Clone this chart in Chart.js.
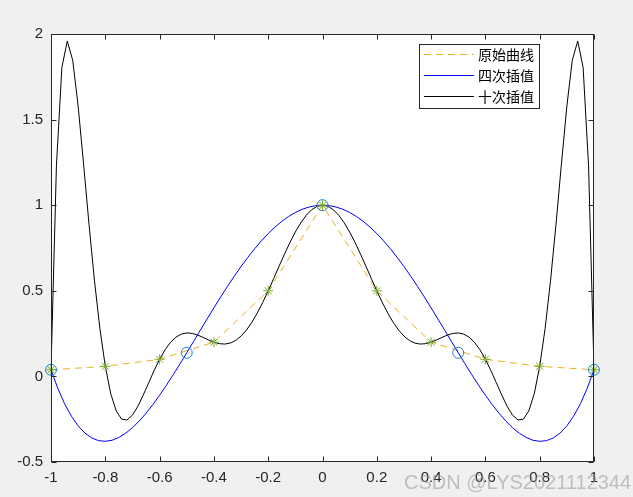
<!DOCTYPE html>
<html>
<head>
<meta charset="utf-8">
<script src="https://cdn.jsdelivr.net/npm/chart.js@4"></script>
<style>
  html,body{margin:0;padding:0;background:#f0f0f0;}
  #wrap{width:633px;height:497px;}
</style>
</head>
<body>
<div id="wrap"><canvas id="c" width="633" height="497"></canvas></div>
<script>
// nodes of the original curve (stars + dashed line)
var xNodes = [-1,-0.8,-0.6,-0.4,-0.2,0,0.2,0.4,0.6,0.8,1];
var yNodes = [0.0385,0.0588,0.1,0.2,0.5,1,0.5,0.2,0.1,0.0588,0.0385];

// 4th order nodes (circles)
var xNodes4 = [-1,-0.5,0,0.5,1];
var yNodes4 = [0.0385,0.1379,1,0.1379,0.0385];

// 4th order curve (blue)
var xP4 = [-1,-0.975,-0.95,-0.925,-0.9,-0.875,-0.85,-0.825,-0.8,-0.775,-0.75,-0.725,-0.7,-0.675,-0.65,-0.625,-0.6,-0.575,-0.55,-0.525,
           -0.5,-0.475,-0.45,-0.425,-0.4,-0.375,-0.35,-0.325,-0.3,-0.275,-0.25,-0.225,-0.2,-0.175,-0.15,-0.125,-0.1,-0.075,-0.05,-0.025,0,
           0.025,0.05,0.075,0.1,0.125,0.15,0.175,0.2,0.225,0.25,0.275,0.3,0.325,0.35,0.375,0.4,0.425,0.45,0.475,
           0.5,0.525,0.55,0.575,0.6,0.625,0.65,0.675,0.7,0.725,0.75,0.775,0.8,0.825,0.85,0.875,0.9,0.925,0.95,0.975,1];
var yP4 = [0.0385,-0.0697,-0.1596,-0.2323,-0.2891,-0.3311,-0.3595,-0.3752,-0.3793,-0.3729,-0.3568,-0.3321,-0.2997,-0.2605,-0.2153,-0.1649,-0.1101,-0.0517,0.0096,0.0730,
           0.1379,0.2038,0.2698,0.3356,0.4005,0.4641,0.5258,0.5852,0.6419,0.6955,0.7456,0.7920,0.8342,0.8721,0.9054,0.9340,0.9576,0.9761,0.9893,0.9973,1,
           0.9973,0.9893,0.9761,0.9576,0.9340,0.9054,0.8721,0.8342,0.7920,0.7456,0.6955,0.6419,0.5852,0.5258,0.4641,0.4005,0.3356,0.2698,0.2038,
           0.1379,0.0730,0.0096,-0.0517,-0.1101,-0.1649,-0.2153,-0.2605,-0.2997,-0.3321,-0.3568,-0.3729,-0.3793,-0.3752,-0.3595,-0.3311,-0.2891,-0.2323,-0.1596,-0.0697,0.0385];

// 10th order curve (black)
var xP10 = [-1,-0.98,-0.96,-0.94,-0.92,-0.9,-0.88,-0.86,-0.84,-0.82,
            -0.8,-0.78,-0.76,-0.74,-0.72,-0.7,-0.68,-0.66,-0.64,-0.62,
            -0.6,-0.58,-0.56,-0.54,-0.52,-0.5,-0.48,-0.46,-0.44,-0.42,
            -0.4,-0.38,-0.36,-0.34,-0.32,-0.3,-0.28,-0.26,-0.24,-0.22,
            -0.2,-0.18,-0.16,-0.14,-0.12,-0.1,-0.08,-0.06,-0.04,-0.02,0,
            0.02,0.04,0.06,0.08,0.1,0.12,0.14,0.16,0.18,0.2,
            0.22,0.24,0.26,0.28,0.3,0.32,0.34,0.36,0.38,0.4,
            0.42,0.44,0.46,0.48,0.5,0.52,0.54,0.56,0.58,0.6,
            0.62,0.64,0.66,0.68,0.7,0.72,0.74,0.76,0.78,0.8,
            0.82,0.84,0.86,0.88,0.9,0.92,0.94,0.96,0.98,1];
var yP10 = [0.0385,1.2303,1.8044,1.9590,1.8459,1.5788,1.2402,0.8881,0.5605,0.2802,
            0.0588,-0.1007,-0.2013,-0.2496,-0.2546,-0.2262,-0.1743,-0.1083,-0.0363,0.0349,
            0.1,0.1554,0.1987,0.2292,0.2472,0.2538,0.2510,0.2415,0.2278,0.2131,
            0.2,0.1912,0.1888,0.1946,0.2099,0.2353,0.2710,0.3165,0.3708,0.4326,
            0.5,0.5710,0.6432,0.7142,0.7818,0.8434,0.8971,0.9409,0.9734,0.9933,1,
            0.9933,0.9734,0.9409,0.8971,0.8434,0.7818,0.7142,0.6432,0.5710,0.5,
            0.4326,0.3708,0.3165,0.2710,0.2353,0.2099,0.1946,0.1888,0.1912,0.2,
            0.2131,0.2278,0.2415,0.2510,0.2538,0.2472,0.2292,0.1987,0.1554,0.1,
            0.0349,-0.0363,-0.1083,-0.1743,-0.2262,-0.2546,-0.2496,-0.2013,-0.1007,0.0588,
            0.2802,0.5605,0.8881,1.2402,1.5788,1.8459,1.9590,1.8044,1.2303,0.0385];

var legendLabels = ['原始曲线','四次插值','十次插值'];
var watermark = 'CSDN @LYS2021112344';

var AX = '#262626';

function pts(xs, ys){
  var out = [];
  for(var i=0;i<xs.length;i++){ out.push({x:xs[i], y:ys[i]}); }
  return out;
}

function fmt(v){
  var r = Math.round(v*10)/10;
  if(r === 0) r = 0;
  return String(r);
}

var axesPlugin = {
  id: 'axesBox',
  beforeDraw: function(chart){
    var a = chart.chartArea, ctx = chart.ctx;
    ctx.save();
    ctx.fillStyle = '#ffffff';
    ctx.fillRect(a.left, a.top, a.right-a.left, a.bottom-a.top);
    ctx.restore();
  },
  afterDraw: function(chart){
    var a = chart.chartArea, ctx = chart.ctx;
    var xs = chart.scales.x, ys = chart.scales.y;
    var L = Math.round(a.left)+0.5, R = Math.round(a.right)-0.5;
    var T = Math.round(a.top)+0.5, B = Math.round(a.bottom)-0.5;
    ctx.save();
    ctx.strokeStyle = AX;
    ctx.lineWidth = 1;
    ctx.strokeRect(L, T, R-L, B-T);
    ctx.beginPath();
    xs.ticks.forEach(function(t){
      var px = Math.round(xs.getPixelForValue(t.value))+0.5;
      ctx.moveTo(px, B); ctx.lineTo(px, B-5);
      ctx.moveTo(px, T); ctx.lineTo(px, T+5);
    });
    ys.ticks.forEach(function(t){
      var py = Math.round(ys.getPixelForValue(t.value))+0.5;
      ctx.moveTo(L, py); ctx.lineTo(L+5, py);
      ctx.moveTo(R, py); ctx.lineTo(R-5, py);
    });
    ctx.stroke();

    // legend
    var lx = 419.5, ly = 44.5, lw = 120, lh = 64;
    ctx.fillStyle = '#ffffff';
    ctx.fillRect(lx, ly, lw, lh);
    ctx.strokeStyle = AX;
    ctx.strokeRect(lx, ly, lw, lh);
    var styles = [
      {c:'#EDB120', dash:[7,5]},
      {c:'#0000FF', dash:[]},
      {c:'#000000', dash:[]}
    ];
    var rows = [54.5, 75.5, 96.5];
    ctx.font = '14px "Noto Sans CJK SC", sans-serif';
    ctx.textBaseline = 'middle';
    for(var i=0;i<legendLabels.length;i++){
      ctx.beginPath();
      ctx.setLineDash(styles[i].dash);
      ctx.strokeStyle = styles[i].c;
      ctx.moveTo(424, rows[i]); ctx.lineTo(474, rows[i]);
      ctx.stroke();
      ctx.setLineDash([]);
      ctx.fillStyle = '#000000';
      ctx.fillText(legendLabels[i], 478, rows[i]);
    }

    // watermark
    ctx.font = '20px "Liberation Sans", Arial, sans-serif';
    ctx.textBaseline = 'alphabetic';
    ctx.fillStyle = 'rgba(150,150,150,0.55)';
    ctx.fillText(watermark, 404, 489);
    ctx.restore();
  }
};

new Chart(document.getElementById('c'), {
  type: 'scatter',
  data: {
    datasets: [
      { label:'stars', data: pts(xNodes, yNodes), showLine:false, pointStyle:'star',
        pointRadius:5, pointBorderColor:'#77AC30', pointBackgroundColor:'#77AC30', pointBorderWidth:1, clip:false },
      { label:'circles', data: pts(xNodes4, yNodes4), showLine:false, pointStyle:'circle',
        pointRadius:5.5, pointBorderColor:'#1E88D0', pointBackgroundColor:'rgba(0,0,0,0)', pointBorderWidth:1, clip:false },
      { label:legendLabels[2], data: pts(xP10, yP10), showLine:true, borderColor:'#000000', borderWidth:1,
        pointRadius:0, tension:0 },
      { label:legendLabels[1], data: pts(xP4, yP4), showLine:true, borderColor:'#0000FF', borderWidth:1,
        pointRadius:0, tension:0 },
      { label:legendLabels[0], data: pts(xNodes, yNodes), showLine:true, borderColor:'#EDB120', borderWidth:1,
        borderDash:[7,5], pointRadius:0, tension:0 }
    ]
  },
  options: {
    responsive: false,
    devicePixelRatio: 1,
    animation: false,
    layout: { padding: { left:0, top:34, right:39, bottom:0 } },
    plugins: { legend:{display:false}, tooltip:{enabled:false} },
    scales: {
      x: {
        type:'linear', min:-1, max:1,
        grid:{ display:false, drawTicks:false },
        border:{ display:false },
        ticks:{ stepSize:0.2, padding:7, color:AX, font:{family:'"Liberation Sans", Arial, sans-serif', size:15},
                maxRotation:0, autoSkip:false, callback:function(v){ return fmt(v); } },
        afterFit:function(s){ s.height = 35; }
      },
      y: {
        type:'linear', min:-0.5, max:2,
        grid:{ display:false, drawTicks:false },
        border:{ display:false },
        ticks:{ stepSize:0.5, padding:8, color:AX, font:{family:'"Liberation Sans", Arial, sans-serif', size:15},
                callback:function(v){ return fmt(v); } },
        afterFit:function(s){ s.width = 51; }
      }
    }
  },
  plugins: [axesPlugin]
});
</script>
</body>
</html>
